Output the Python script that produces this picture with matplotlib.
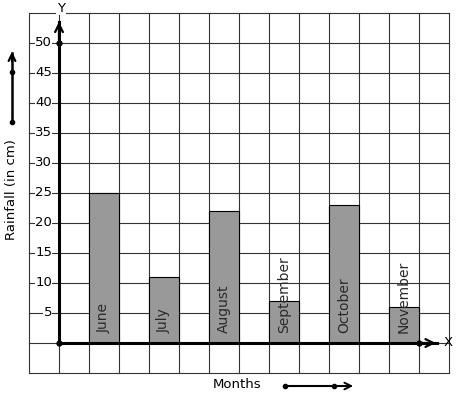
import matplotlib
matplotlib.use("Agg")
import matplotlib.pyplot as plt

# ── Data ─────────────────────────────────────────────
months   = ["June", "July", "August", "September", "October", "November"]
rainfall = [25, 11, 22, 7, 23, 6]
y_ticks  = [5, 10, 15, 20, 25, 30, 35, 40, 45, 50]

BAR_COLOR  = "#999999"
GRID_COLOR = "#333333"

# x in grid cells (1 cell = 30 px), y in cm (1 cell = 5 cm)
fig = plt.figure(figsize=(4.57, 3.99), dpi=100)
ax = fig.add_axes([0, 0, 1, 1])
ax.set_xlim(-59 / 30, (457 - 59) / 30)
ax.set_ylim((343 - 399) / 6, 343 / 6)
ax.axis("off")

# ── Graph paper ───────────────────────────────────────
for gx in range(-1, 14):
    ax.plot([gx, gx], [-5, 55], color=GRID_COLOR, lw=0.8, zorder=1)
for gy in range(-5, 56, 5):
    ax.plot([-1, 13], [gy, gy], color=GRID_COLOR, lw=0.8, zorder=1)

# ── Bars ──────────────────────────────────────────────
xpos = [2 * i + 1 for i in range(len(months))]
ax.bar(xpos, rainfall, width=1, align="edge", color=BAR_COLOR,
       edgecolor="black", linewidth=0.8, zorder=2)
for x, m in zip(xpos, months):
    ax.text(x + 0.5, 1.7, m, rotation=90, ha="center", va="bottom",
            fontsize=10, color="#2a2a2a", zorder=4)

# ── Axes with arrows ──────────────────────────────────
ax.plot([0, 12.6], [0, 0], color="black", lw=2.2, zorder=3)
ax.plot([0, 0], [0, 53.5], color="black", lw=2.2, zorder=3)
ax.annotate("", xy=(12.65, 0), xytext=(12.0, 0),
            arrowprops=dict(arrowstyle="->", lw=1.6, color="black",
                            mutation_scale=14), zorder=3)
ax.annotate("", xy=(0, 54), xytext=(0, 50),
            arrowprops=dict(arrowstyle="->", lw=1.6, color="black",
                            mutation_scale=14), zorder=3)
ax.plot([0, 0, 12], [0, 50, 0], "o", color="black", ms=3.5, zorder=5)
ax.text(12.97, 0, "X", fontsize=9.5, ha="center", va="center")
ax.text(0.07, 55.8, "Y", fontsize=9.5, ha="center", va="center",
        bbox=dict(facecolor="white", edgecolor="none", pad=0.5))

for t in y_ticks:
    ax.text(-0.23, t, str(t), fontsize=9.5, ha="right", va="center", zorder=4,
            bbox=dict(facecolor="white", edgecolor="none", pad=0.3))

# ── Axis titles with arrows ───────────────────────────
ax.text(-1.57, 25.5, "Rainfall (in cm)", rotation=90, fontsize=9.5,
        ha="center", va="center")
ax.plot([-1.567, -1.567], [36.83, 48.3], color="black", lw=1.8)
ax.annotate("", xy=(-1.567, 49.0), xytext=(-1.567, 46.5),
            arrowprops=dict(arrowstyle="->", lw=1.6, color="black",
                            mutation_scale=12))
ax.plot([-1.567, -1.567], [36.83, 45.17], "o", color="black", ms=3)

ax.text(5.93, -7.0, "Months", fontsize=9.5, ha="center", va="center")
ax.plot([7.53, 9.6], [-7.17, -7.17], color="black", lw=1.5)
ax.annotate("", xy=(9.9, -7.17), xytext=(9.3, -7.17),
            arrowprops=dict(arrowstyle="->", lw=1.4, color="black",
                            mutation_scale=12))
ax.plot([7.53, 9.17], [-7.17, -7.17], "o", color="black", ms=3)

fig.savefig("out.png", dpi=100, facecolor="white")
